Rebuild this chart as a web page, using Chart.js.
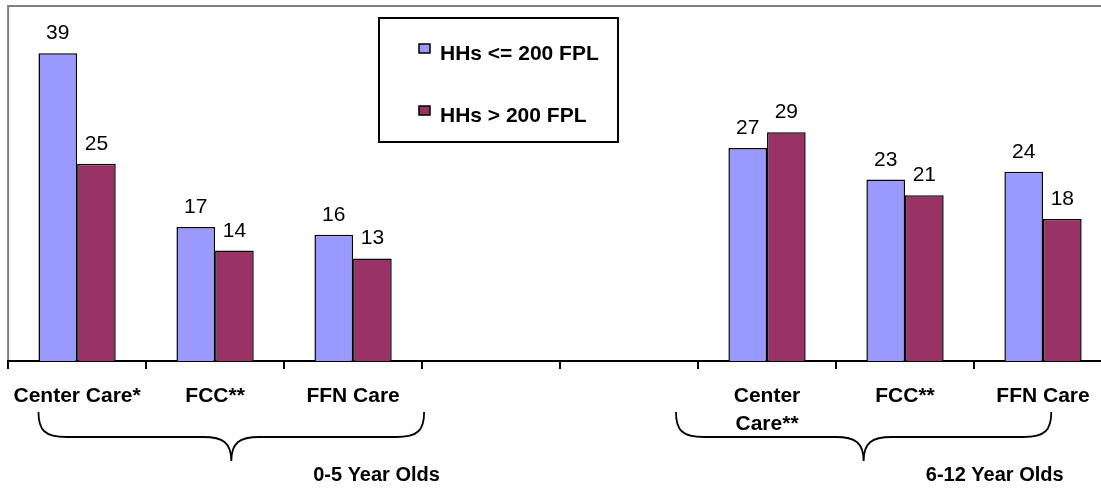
<!DOCTYPE html>
<html><head><meta charset="utf-8">
<script src="https://cdn.jsdelivr.net/npm/chart.js@4/dist/chart.umd.min.js"></script>
<style>html,body{margin:0;padding:0;background:#fff;overflow:hidden}canvas{display:block}</style>
</head><body>
<canvas id="c" width="1112" height="492"></canvas>
<script>
// ---- data ----
const categories = ["Center Care*", "FCC**", "FFN Care", "", "", ["Center", "Care**"], "FCC**", "FFN Care"];
const seriesNames = ["HHs <= 200 FPL", "HHs > 200 FPL"];
const lowIncome = [39, 17, 16, null, null, 27, 23, 24];
const highIncome = [25, 14, 13, null, null, 29, 21, 18];
const groupLabels = ["0-5 Year Olds", "6-12 Year Olds"];
const groupFirst = [0, 5];
const groupLast = [2, 7];
const yMin = 0;
const yMax = 45;

// ---- styling ----
const FONT = "'Liberation Sans', Arial, sans-serif";
const colors = ["#9999FF", "#993366"];

const plotBorder = {
  id: 'plotBorder',
  beforeDraw(chart) {
    const {ctx, chartArea: a} = chart;
    ctx.save();
    ctx.strokeStyle = '#808080';
    ctx.lineWidth = 2;
    ctx.beginPath();
    ctx.moveTo(a.left, a.bottom);
    ctx.lineTo(a.left, a.top);
    ctx.lineTo(a.right, a.top);
    ctx.stroke();
    ctx.restore();
  }
};

const valueLabels = {
  id: 'valueLabels',
  afterDatasetsDraw(chart) {
    const ctx = chart.ctx;
    ctx.save();
    ctx.font = `21px ${FONT}`;
    ctx.fillStyle = '#000';
    ctx.textAlign = 'center';
    ctx.textBaseline = 'alphabetic';
    chart.data.datasets.forEach((ds, i) => {
      const meta = chart.getDatasetMeta(i);
      meta.data.forEach((el, j) => {
        const v = ds.data[j];
        if (v === null || v === undefined) return;
        ctx.fillText(String(v), el.x, el.y - 14);
      });
    });
    ctx.restore();
  }
};

const boxLegend = {
  id: 'boxLegend',
  afterDraw(chart) {
    const ctx = chart.ctx;
    ctx.save();
    ctx.strokeStyle = '#000';
    ctx.lineWidth = 2;
    ctx.strokeRect(379, 18, 239, 124);
    ctx.font = `bold 21px ${FONT}`;
    ctx.textBaseline = 'alphabetic';
    ctx.textAlign = 'left';
    chart.data.datasets.forEach((ds, i) => {
      const base = 60 + i * 62;
      ctx.fillStyle = ds.backgroundColor;
      ctx.fillRect(419, base - 16, 11, 9);
      ctx.lineWidth = 1.5;
      ctx.strokeRect(419, base - 16, 11, 9);
      ctx.fillStyle = '#000';
      ctx.fillText(ds.label, 440, base);
    });
    ctx.restore();
  }
};

function brace(ctx, x1, x2, yTop, yMid, yTip) {
  const xm = (x1 + x2) / 2;
  ctx.beginPath();
  ctx.moveTo(x1, yTop);
  ctx.bezierCurveTo(x1, yTop + 18, x1 + 6, yMid, x1 + 28, yMid);
  ctx.lineTo(xm - 28, yMid);
  ctx.bezierCurveTo(xm - 8, yMid, xm, yMid + 6, xm, yTip);
  ctx.moveTo(xm, yTip);
  ctx.bezierCurveTo(xm, yMid + 6, xm + 8, yMid, xm + 28, yMid);
  ctx.lineTo(x2 - 28, yMid);
  ctx.bezierCurveTo(x2 - 6, yMid, x2, yTop + 18, x2, yTop);
  ctx.stroke();
}

const groupBraces = {
  id: 'groupBraces',
  afterDraw(chart) {
    const ctx = chart.ctx;
    const xs = chart.scales.x;
    const cw = xs.getPixelForValue(1) - xs.getPixelForValue(0);
    const bottom = chart.chartArea.bottom;
    const leftOff = [-0.28, -0.66];
    const rightOff = [0.515, 0.06];
    const labelOff = [0.17, -0.35];
    ctx.save();
    ctx.strokeStyle = '#000';
    ctx.lineWidth = 1.8;
    ctx.font = `bold 20px ${FONT}`;
    ctx.fillStyle = '#000';
    ctx.textAlign = 'center';
    ctx.textBaseline = 'middle';
    groupLabels.forEach((g, i) => {
      const x1 = xs.getPixelForValue(groupFirst[i]) + leftOff[i] * cw;
      const x2 = xs.getPixelForValue(groupLast[i]) + rightOff[i] * cw;
      brace(ctx, x1, x2, bottom + 51, bottom + 76, bottom + 100);
      ctx.fillText(g, xs.getPixelForValue(groupLast[i]) + labelOff[i] * cw, bottom + 114);
    });
    ctx.restore();
  }
};

new Chart(document.getElementById('c'), {
  type: 'bar',
  data: {
    labels: categories,
    datasets: [
      {label: seriesNames[0], data: lowIncome, backgroundColor: colors[0], borderColor: '#000', borderWidth: 1.5},
      {label: seriesNames[1], data: highIncome, backgroundColor: colors[1], borderColor: '#000', borderWidth: 1.5}
    ]
  },
  options: {
    responsive: false,
    animation: false,
    devicePixelRatio: 1,
    layout: {padding: {left: 8, top: 6, right: 0, bottom: 0}},
    datasets: {bar: {barPercentage: 1, categoryPercentage: 0.56}},
    plugins: {legend: {display: false}, tooltip: {enabled: false}},
    scales: {
      y: {display: false, min: yMin, max: yMax},
      x: {
        offset: true,
        grid: {display: true, offset: true, drawOnChartArea: false, drawTicks: true, tickLength: 8, color: '#000', lineWidth: 2},
        border: {display: true, color: '#000', width: 2},
        ticks: {color: '#000', padding: 13, maxRotation: 0, autoSkip: false,
                font: {family: FONT, size: 21, weight: 'bold', lineHeight: 1.35}},
        afterFit(scale) { scale.height = 131; }
      }
    }
  },
  plugins: [plotBorder, valueLabels, boxLegend, groupBraces]
});
</script>
</body></html>
